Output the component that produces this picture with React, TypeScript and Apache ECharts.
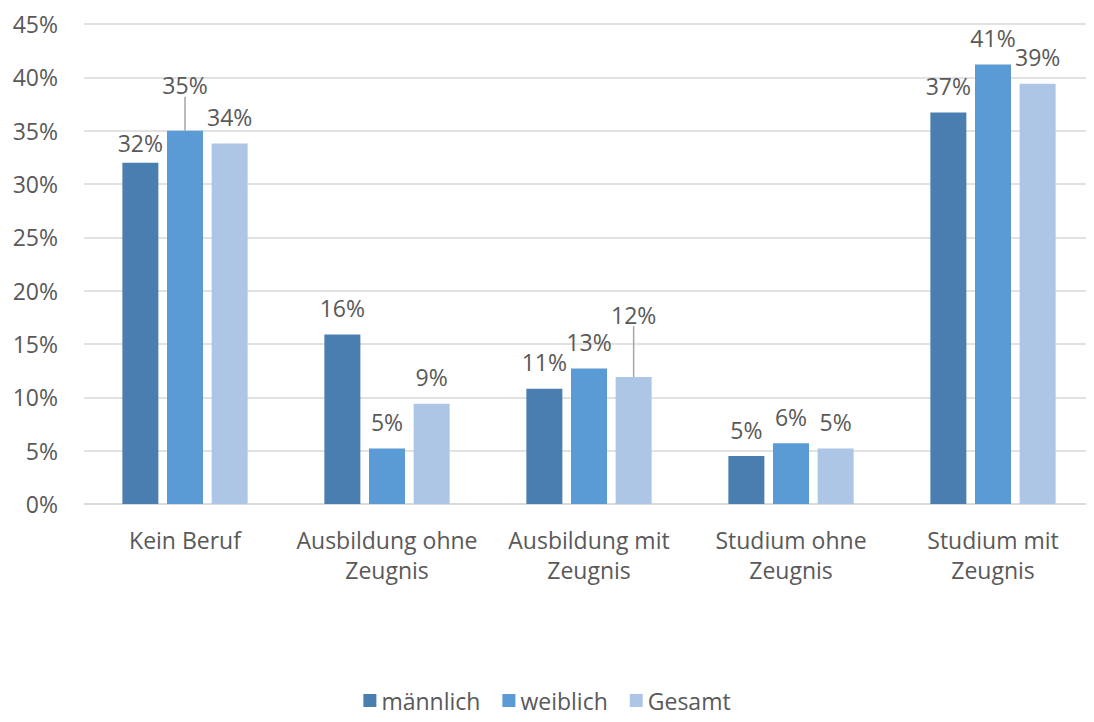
import React, { useEffect, useRef } from "react";
import * as echarts from "echarts";

const categories = [
  "Kein Beruf",
  "Ausbildung ohne\nZeugnis",
  "Ausbildung mit\nZeugnis",
  "Studium ohne\nZeugnis",
  "Studium mit\nZeugnis",
];
const seriesNames = ["männlich", "weiblich", "Gesamt"];
const maennlich = [32.0, 15.9, 10.8, 4.5, 36.7];
const weiblich = [35.0, 5.2, 12.7, 5.7, 41.2];
const gesamt = [33.8, 9.4, 11.9, 5.2, 39.4];
const colors = ["#4a7eb0", "#5b9bd5", "#adc6e6"];
// label nudges: [series index, data index, dy, leader line]
const labelShifts: [number, number, number, boolean][] = [
  [0, 0, 7, false],
  [1, 0, -19, true],
  [2, 2, -36, true],
];

const FONT = "'Open Sans', sans-serif";
const TXT = "#595959";
const FS = 23;

export default function App() {
  const ref = useRef<HTMLDivElement>(null);
  useEffect(() => {
    if (!ref.current) return;
    const chart = echarts.init(ref.current, undefined, { renderer: "svg" });
    const all = [maennlich, weiblich, gesamt];
    const series = all.map((vals, si) => ({
      name: seriesNames[si],
      type: "bar",
      barWidth: 36,
      barGap: "24%",
      itemStyle: { color: colors[si] },
      data: vals.map((v, di) => {
        const s = labelShifts.find((x) => x[0] === si && x[1] === di);
        return s && s[3]
          ? { value: v, labelLine: { show: true, lineStyle: { color: "#a6a6a6", width: 1.5 } } }
          : { value: v };
      }),
      label: {
        show: true,
        position: "top",
        distance: 15,
        color: TXT,
        fontFamily: FONT,
        fontSize: FS,
        formatter: (p: any) => Math.round(p.value) + "%",
      },
      labelLine: { show: false },
      labelLayout: (p: any) => {
        const s = labelShifts.find((x) => x[0] === p.seriesIndex && x[1] === p.dataIndex);
        return s ? { dy: s[2] } : {};
      },
    }));
    chart.setOption({
      animation: false,
      textStyle: { fontFamily: FONT },
      grid: { left: 84, right: 0, top: 24, bottom: 218, containLabel: false },
      legend: {
        bottom: 5,
        left: "center",
        itemWidth: 13,
        itemHeight: 13,
        itemGap: 22,
        icon: "rect",
        textStyle: { color: TXT, fontSize: FS, fontFamily: FONT },
        data: seriesNames,
      },
      xAxis: {
        type: "category",
        data: categories,
        axisTick: { show: false },
        axisLine: { lineStyle: { color: "#d9d9d9", width: 1.5 } },
        axisLabel: { color: TXT, fontSize: FS, fontFamily: FONT, margin: 21, lineHeight: 30, interval: 0 },
      },
      yAxis: {
        type: "value",
        min: 0,
        max: 45,
        interval: 5,
        axisLine: { show: false },
        axisTick: { show: false },
        splitLine: { lineStyle: { color: "#d9d9d9", width: 1.5 } },
        axisLabel: { color: TXT, fontSize: FS, fontFamily: FONT, margin: 26, formatter: "{value}%" },
      },
      series,
    });
    return () => chart.dispose();
  }, []);
  return <div ref={ref} style={{ width: 1094, height: 722, margin: -8 }} />;
}
